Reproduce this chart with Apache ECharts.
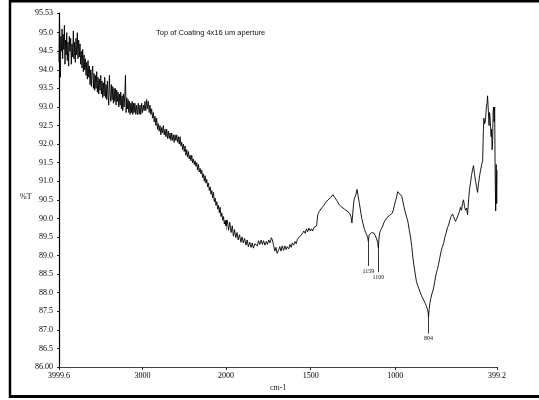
<!DOCTYPE html>
<html>
<head>
<meta charset="utf-8">
<script src="https://cdn.jsdelivr.net/npm/echarts@6/dist/echarts.min.js"></script>
<style>html,body{margin:0;padding:0;background:#fff}#c{width:539px;height:400px}</style>
</head>
<body>
<div id="c"></div>
<script>
const titleText = 'Top of Coating 4x16 um aperture';
const yName = '%T';
const xName = 'cm-1';
const yTicks = [86, 86.5, 87, 87.5, 88, 88.5, 89, 89.5, 90, 90.5, 91, 91.5, 92, 92.5, 93, 93.5, 94, 94.5, 95, 95.53];
const xTicksLeft = [3999.6, 3000, 2000];
const xTicksRight = [1500, 1000, 399.2];
const peakLabels = [
  { wn: 1159, top: 89.38, bottom: 88.72 },
  { wn: 1100, top: 89.2, bottom: 88.55 },
  { wn: 804, top: 87.35, bottom: 86.9 }
];
// [wavenumber cm-1, %T]
const spectrum = [
[3999.6,94.2],[3994,95.4],[3988,94.6],[3983,93.8],[3977,94.9],[3970,94.5],[3963,95.1],[3956,94.3],[3949,94.95],[3942,94.55],
[3935,95.2],[3928,94.15],[3921,94.8],[3914,94.4],[3907,95.0],[3900,94.25],[3892,94.75],[3884,94.1],[3876,94.9],[3868,94.5],
[3860,94.85],[3852,94.15],[3844,94.7],[3836,94.35],[3828,95.05],[3820,94.3],[3812,94.75],[3804,94.2],[3796,94.85],[3788,94.4],
[3780,95.0],[3772,94.3],[3764,94.8],[3756,94.35],[3748,94.7],[3740,94.15],[3732,94.5],[3724,94.05],[3716,94.55],[3708,93.95],
[3700,94.4],[3692,94.0],[3684,94.3],[3676,93.85],[3668,94.2],[3660,93.75],[3652,94.25],[3644,93.8],[3636,94.1],[3628,93.6],
[3620,94.0],[3612,93.55],[3604,93.95],[3596,94.1],[3588,93.5],[3580,93.9],[3572,93.45],[3564,93.85],[3556,93.5],[3548,93.95],
[3540,93.4],[3532,93.8],[3524,93.35],[3516,93.75],[3508,93.45],[3500,93.85],[3492,93.35],[3484,93.7],[3476,93.25],[3468,93.65],
[3460,93.3],[3452,93.8],[3444,93.25],[3436,93.6],[3428,93.2],[3420,93.7],[3412,93.3],[3404,93.05],[3396,93.85],[3388,93.4],
[3380,93.15],[3372,93.6],[3364,93.2],[3356,93.55],[3348,93.1],[3340,93.5],[3332,93.15],[3324,93.5],[3316,93.05],[3308,93.45],
[3300,93.15],[3292,93.4],[3284,93.0],[3276,93.35],[3268,93.05],[3260,93.4],[3252,92.95],[3244,93.3],[3236,92.9],[3228,93.35],
[3220,93.0],[3212,93.3],[3204,93.85],[3196,92.85],[3188,93.25],[3180,92.95],[3172,93.2],[3164,92.85],[3156,93.15],[3148,92.8],
[3140,93.1],[3132,92.85],[3124,93.15],[3116,92.8],[3108,93.1],[3100,92.85],[3090,93.1],[3080,92.8],[3070,93.05],[3060,92.8],
[3050,93.1],[3040,92.8],[3030,93.05],[3020,92.8],[3010,93.1],[3000,92.85],[2990,93.05],[2980,92.9],[2970,93.15],[2960,92.9],
[2950,93.2],[2940,92.95],[2930,93.15],[2920,92.85],[2910,93.05],[2900,92.8],[2890,92.95],[2880,92.7],[2870,92.85],[2860,92.6],
[2850,92.75],[2840,92.5],[2830,92.7],[2820,92.4],[2810,92.55],[2800,92.35],[2790,92.5],[2780,92.25],[2770,92.45],[2760,92.3],
[2750,92.5],[2740,92.25],[2730,92.4],[2720,92.2],[2710,92.4],[2700,92.15],[2690,92.35],[2680,92.15],[2670,92.3],[2660,92.1],
[2650,92.3],[2640,92.1],[2630,92.25],[2620,92.05],[2610,92.25],[2600,92.1],[2590,92.25],[2580,92.05],[2570,92.2],[2560,92.0],
[2550,92.2],[2540,91.95],[2530,92.05],[2520,91.85],[2510,92.0],[2500,91.8],[2490,91.95],[2480,91.7],[2470,91.85],[2460,91.65],
[2450,91.8],[2440,91.6],[2430,91.7],[2420,91.55],[2410,91.7],[2400,91.5],[2390,91.6],[2380,91.45],[2370,91.55],[2360,91.4],
[2350,91.5],[2340,91.3],[2330,91.45],[2320,91.25],[2310,91.35],[2300,91.2],[2290,91.3],[2280,91.1],[2270,91.2],[2260,91.0],
[2250,91.15],[2240,90.95],[2230,91.05],[2220,90.85],[2210,90.95],[2200,90.75],[2190,90.85],[2180,90.65],[2170,90.75],[2160,90.55],
[2150,90.7],[2140,90.45],[2130,90.55],[2120,90.35],[2110,90.45],[2100,90.25],[2090,90.35],[2080,90.15],[2070,90.3],[2060,90.05],
[2050,90.15],[2040,89.95],[2030,90.05],[2020,89.85],[2010,89.95],[2000,89.8],
[1992,89.95],[1985,89.68],[1978,89.9],[1970,89.62],[1963,89.8],[1956,89.52],[1950,89.7],[1942,89.48],[1935,89.62],[1928,89.42],
[1920,89.56],[1912,89.36],[1905,89.5],[1898,89.34],[1890,89.46],[1882,89.28],[1875,89.42],[1868,89.24],[1860,89.36],[1852,89.22],
[1845,89.34],[1838,89.2],[1830,89.32],[1822,89.36],[1815,89.26],[1808,89.4],[1800,89.3],[1792,89.42],[1785,89.3],[1778,89.4],
[1770,89.28],[1762,89.38],[1755,89.3],[1748,89.42],[1740,89.34],[1732,89.48],[1726,89.42],[1720,89.3],[1712,89.12],[1705,89.22],
[1698,89.06],[1690,89.14],[1682,89.24],[1675,89.12],[1668,89.26],[1660,89.14],[1652,89.26],[1645,89.16],[1638,89.24],[1630,89.18],
[1622,89.3],[1615,89.22],[1608,89.34],[1600,89.28],[1592,89.38],[1585,89.32],[1578,89.44],[1570,89.45],[1562,89.52],[1555,89.55],
[1548,89.6],[1540,89.66],[1532,89.6],[1525,89.72],[1518,89.64],[1510,89.74],[1502,89.66],[1495,89.72],[1488,89.66],[1480,89.76],
[1472,89.72],[1465,89.8],[1458,90.1],[1450,90.18],[1442,90.22],[1435,90.28],[1428,90.32],[1420,90.36],[1412,90.42],[1405,90.46],
[1398,90.5],[1390,90.54],[1382,90.56],[1375,90.6],[1368,90.64],[1360,90.58],[1352,90.54],[1345,90.48],[1338,90.42],[1330,90.36],
[1322,90.38],[1315,90.3],[1308,90.34],[1300,90.25],[1292,90.28],[1285,90.2],[1278,90.18],[1270,90.14],[1262,90.05],[1256,89.88],
[1250,90.2],[1244,90.5],[1238,90.45],[1232,90.65],[1226,90.78],[1220,90.62],[1212,90.4],[1205,90.2],[1198,90.0],[1190,89.85],
[1182,89.7],[1175,89.62],[1168,89.55],[1163,89.48],[1159,89.38],[1155,89.55],[1148,89.6],[1140,89.62],[1132,89.66],[1125,89.6],
[1118,89.55],[1110,89.45],[1104,89.35],[1100,89.2],[1096,89.5],[1090,89.65],[1082,89.72],[1074,89.8],[1066,89.9],[1058,89.96],
[1050,90.02],[1042,90.05],[1034,90.08],[1026,90.1],[1018,90.14],[1010,90.25],[1004,90.38],[998,90.48],[992,90.58],[986,90.72],
[980,90.68],[974,90.66],[968,90.62],[962,90.6],[955,90.45],[948,90.3],[940,90.15],[932,90.02],[925,89.9],[918,89.7],
[910,89.5],[903,89.25],[896,88.95],[889,88.7],[882,88.5],[875,88.3],[868,88.2],[860,88.1],[852,88.0],[845,87.92],
[838,87.88],[830,87.78],[822,87.7],[815,87.62],[810,87.55],[806,87.48],[804,87.35],[800,87.55],[796,87.7],[790,87.85],
[783,87.98],[775,88.1],[767,88.3],[760,88.48],[752,88.62],[745,88.75],[738,88.92],[730,89.1],[723,89.22],[715,89.32],
[708,89.48],[700,89.6],[692,89.75],[685,89.82],[678,89.95],[670,90.05],[662,90.12],[656,90.05],[650,90.08],[644,89.92],
[638,89.98],[632,90.02],[626,90.12],[620,90.2],[615,90.3],[609,90.22],[603,90.4],[597,90.5],[591,90.32],[585,90.22],
[579,90.28],[573,90.1],[567,90.5],[561,90.8],[556,90.95],[550,91.15],[544,91.3],[538,91.42],[532,91.2],[526,91.0],
[520,90.85],[514,90.7],[508,90.95],[502,91.15],[496,91.3],[490,91.45],[484,91.55],[480,92.3],[477,92.7],[472,92.55],
[467,92.65],[462,93.0],[458,93.1],[455,93.3],[452,93.05],[449,93.0],[446,92.5],[443,92.85],[440,92.7],[437,92.65],
[434,92.2],[431,92.4],[428,91.85],[425,92.1],[422,92.9],[419,93.0],[416,92.6],[413,93.0],[410,91.2],[407,90.2],
[404,91.45],[401,90.4],[399.2,91.3]
];

const serif = 'Liberation Serif';
const chart = echarts.init(document.getElementById('c'), null, { renderer: 'canvas' });
const yFmt = v => (v === 95.53 ? '95.53' : v === 86 ? '86.00' : v.toFixed(1));
const xFmt = v => (v === 3999.6 ? '3999.6' : v === 399.2 ? '399.2' : String(Math.round(v)));
const axisLbl = { fontFamily: serif, fontSize: 8, color: '#000' };

chart.setOption({
  animation: false,
  backgroundColor: '#fff',
  title: {
    text: titleText, left: 156, top: 29, padding: 0,
    textStyle: { fontFamily: 'Liberation Sans', fontSize: 7.5, fontWeight: 'normal', color: '#111' }
  },
  grid: [
    { left: 59, top: 13, width: 167, bottom: 33, containLabel: false },
    { left: 226, top: 13, right: 42, bottom: 33, containLabel: false }
  ],
  xAxis: [
    { type: 'value', gridIndex: 0, min: 2000, max: 3999.6, inverse: true,
      axisLine: { lineStyle: { color: '#444', width: 1 } },
      axisTick: { show: true, length: 3, customValues: xTicksLeft, lineStyle: { color: '#222' } },
      axisLabel: Object.assign({ customValues: xTicksLeft, formatter: xFmt, margin: 5 }, axisLbl),
      splitLine: { show: false } },
    { type: 'value', gridIndex: 1, min: 399.2, max: 2000, inverse: true,
      axisLine: { lineStyle: { color: '#444', width: 1 } },
      axisTick: { show: true, length: 3, customValues: xTicksRight, lineStyle: { color: '#222' } },
      axisLabel: Object.assign({ customValues: xTicksRight, formatter: xFmt, margin: 5 }, axisLbl),
      splitLine: { show: false } }
  ],
  yAxis: [
    { type: 'value', gridIndex: 0, min: 86, max: 95.53,
      axisLine: { show: true, lineStyle: { color: '#000', width: 1.2 } },
      axisTick: { show: true, length: 2, customValues: yTicks, lineStyle: { color: '#222' } },
      axisLabel: Object.assign({ customValues: yTicks, formatter: yFmt, margin: 6 }, axisLbl),
      splitLine: { show: false } },
    { type: 'value', gridIndex: 1, min: 86, max: 95.53, show: false, splitLine: { show: false } }
  ],
  series: [
    { type: 'line', xAxisIndex: 0, yAxisIndex: 0, data: spectrum, showSymbol: false, symbol: 'none',
      clip: true, lineStyle: { color: '#000', width: 0.9 } },
    { type: 'line', xAxisIndex: 1, yAxisIndex: 1, data: spectrum, showSymbol: false, symbol: 'none',
      clip: true, lineStyle: { color: '#000', width: 0.9 },
      markLine: {
        silent: true, symbol: ['none', 'none'], animation: false,
        lineStyle: { color: '#000', width: 0.8, type: 'solid' },
        label: { show: true, position: 'end', formatter: p => p.name, fontFamily: serif, fontSize: 6, color: '#111', distance: 2 },
        data: peakLabels.map(p => [
          { coord: [p.wn, p.top], name: String(p.wn) },
          { coord: [p.wn, p.bottom] }
        ])
      } }
  ],
  graphic: [
    { type: 'line', shape: { x1: 9, y1: 1, x2: 539, y2: 1 }, style: { stroke: '#000', lineWidth: 3 } },
    { type: 'line', shape: { x1: 10, y1: 0, x2: 10, y2: 398 }, style: { stroke: '#000', lineWidth: 2.5 } },
    { type: 'line', shape: { x1: 9, y1: 396.5, x2: 539, y2: 396.5 }, style: { stroke: '#000', lineWidth: 3 } },
    { type: 'text', left: 20, top: 193, style: { text: yName, font: '8px "Liberation Serif"', fill: '#111' } },
    { type: 'text', left: 270, top: 384, style: { text: xName, font: '8px "Liberation Serif"', fill: '#111' } }
  ]
});
</script>
</body>
</html>
